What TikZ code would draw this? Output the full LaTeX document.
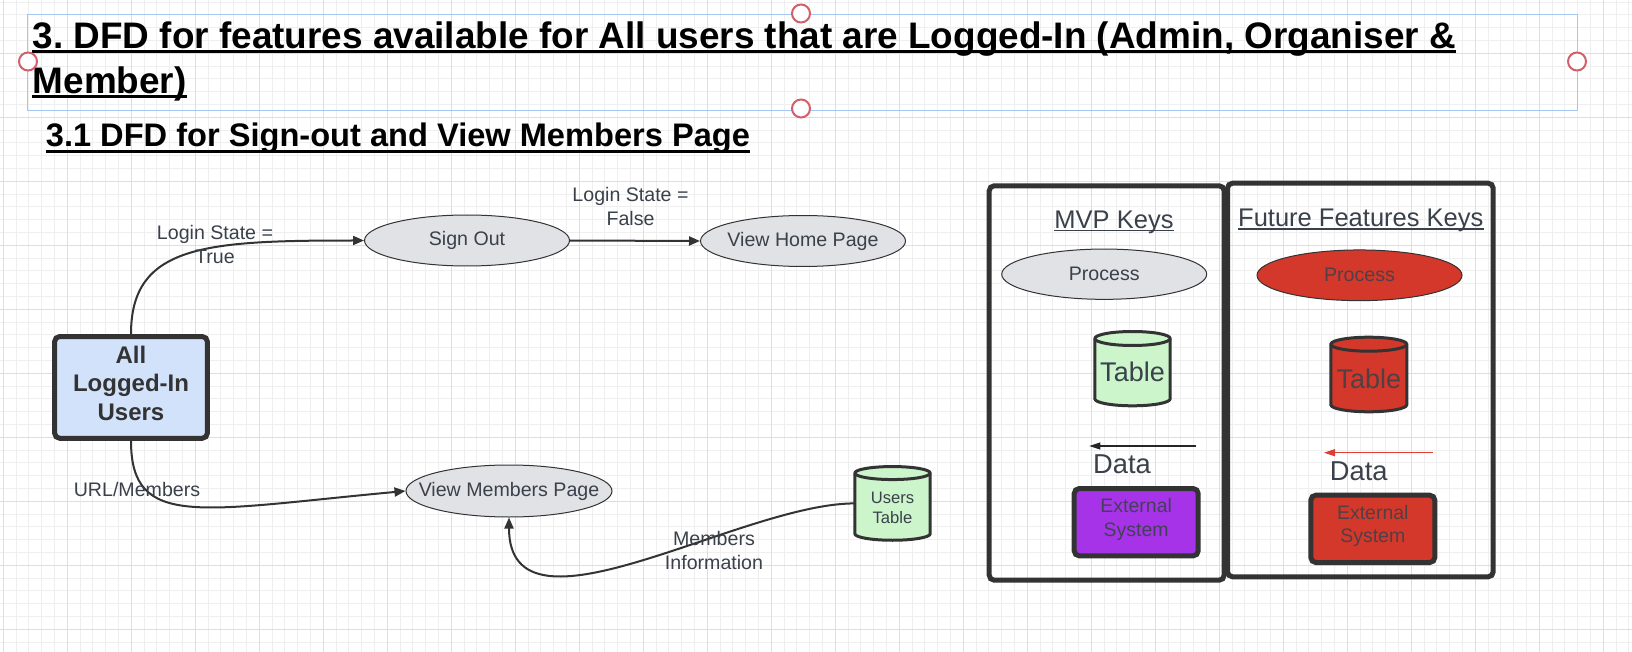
\documentclass[tikz,border=0pt]{standalone}
\usepackage{fontspec}
\setmainfont{Liberation Sans}
\usetikzlibrary{arrows.meta,shapes.geometric}
\frenchspacing
\definecolor{ink}{HTML}{3A414A}
\definecolor{stroke}{HTML}{333333}
\definecolor{procfill}{HTML}{E0E2E6}
\definecolor{userfill}{HTML}{D2E2FB}
\definecolor{tabfill}{HTML}{CCF5CC}
\definecolor{redfill}{HTML}{D3382B}
\definecolor{redline}{HTML}{E03C36}
\definecolor{purp}{HTML}{A633E8}
\definecolor{gridminor}{HTML}{EFEFEF}
\definecolor{gridmajor}{HTML}{DEDEDE}
\definecolor{selblue}{HTML}{A5C8F2}
\definecolor{selred}{HTML}{D2606B}
\newcommand\cylshape[7]{%
 \pgfmathsetmacro\cxl{#1-#3/2}\pgfmathsetmacro\cxr{#1+#3/2}%
 \pgfmathsetmacro\cyt{#2-#4/2+#5}\pgfmathsetmacro\cyb{#2+#4/2-#5}%
 \draw[draw=stroke, line width=#7, fill=#6, line join=round] (\cxl,\cyt) -- (\cxl,\cyb)
   arc[start angle=180,end angle=0,x radius=#3/2,y radius=#5] -- (\cxr,\cyt)
   arc[start angle=0,end angle=-180,x radius=#3/2,y radius=#5] -- cycle;
 \draw[draw=stroke, line width=#7] (\cxl,\cyt) arc[start angle=180,end angle=0,x radius=#3/2,y radius=#5];
}
\begin{document}
\begin{tikzpicture}[x=0.5pt,y=-0.5pt,
  ttl/.style={font=\bfseries\fontsize{18.45}{22}\selectfont, text=black, inner sep=0pt},
  subttl/.style={font=\bfseries\fontsize{16.3}{20}\selectfont, text=black, inner sep=0pt},
  procnode/.style={ellipse, draw=stroke, line width=0.5pt, fill=procfill, inner sep=0pt,
     font=\fontsize{9.8}{11.75}\selectfont, text=ink},
  lbl/.style={font=\fontsize{9.8}{11.75}\selectfont, text=ink, align=center, inner sep=0pt},
  flow/.style={draw=stroke, line width=1pt, -{Triangle[length=5.5pt,width=4.5pt]}},
  thickbox/.style={draw=stroke, line width=2.5pt, rounded corners=2.5pt, inner sep=0pt},
  keyttl/.style={font=\fontsize{12.75}{15}\selectfont, text=ink, inner sep=0pt},
  cylnode/.style={inner sep=0pt, outer sep=0pt},
  datatxt/.style={font=\fontsize{13.65}{16}\selectfont, text=ink, inner sep=0pt, anchor=base},
  uline/.style={line width=1.5pt}
]
\useasboundingbox (0,0) rectangle (1632,652);
\fill[white] (0,0) rectangle (1632,652);
% grid
\foreach \i in {0,...,127} \draw[gridminor, line width=0.5pt] ({3.3+12.8*\i},0) -- ({3.3+12.8*\i},652);
\foreach \j in {0,...,50} \draw[gridminor, line width=0.5pt] (0,{2.1+12.8*\j}) -- (1632,{2.1+12.8*\j});
\foreach \i in {0,...,25} \draw[gridmajor, line width=0.65pt] ({3.3+64*\i},0) -- ({3.3+64*\i},652);
\foreach \j in {0,...,9} \draw[gridmajor, line width=0.65pt] (0,{53.3+64*\j}) -- (1632,{53.3+64*\j});

% titles
\draw[selblue, line width=0.65pt] (27.2,14.7) rectangle (1577.7,110.7);
\node[ttl, anchor=base west] (title1) at (32.4,48.3) {3. DFD for features available for All users that are Logged-In (Admin, Organiser \&};
\node[ttl, anchor=base west] (title2) at (32.4,93.3) {Member)};
\draw[uline] ([yshift=-1.7pt]title1.base west) -- ([yshift=-1.7pt]title1.base east);
\draw[uline] ([yshift=-1.7pt]title2.base west) -- ([yshift=-1.7pt]title2.base east);
\foreach \p in {(801,13.5),(801,108.5),(28,61.5),(1577,61.5)}
  \draw[selred, line width=1pt, fill=white] \p circle[radius=9];
\node[subttl, anchor=base west] (sub) at (45.5,146.7) {3.1 DFD for Sign-out and View Members Page};
\draw[line width=1.25pt] ([yshift=-2.3pt]sub.base west) -- ([yshift=-2.3pt]sub.base east);

% main diagram
\node[thickbox, fill=userfill, minimum width=76.35pt, minimum height=50.85pt, align=center,
  font=\bfseries\fontsize{12}{14.25}\selectfont, text=stroke] (users) at (131,387.4)
  {All\\Logged-In\\Users\rule[-4.5pt]{0pt}{4.5pt}};
\node[procnode, minimum width=102.5pt, minimum height=25.5pt] (signout) at (467,240.5) {\makebox[0pt]{Sign Out}};
\node[procnode, minimum width=102.5pt, minimum height=25.5pt] (home) at (803,241) {\makebox[0pt]{View Home Page}};
\node[procnode, minimum width=103pt, minimum height=26pt] (members) at (509,491) {\makebox[0pt]{View Members Page}};

\cylshape{892.5}{503.4}{75.4}{73.7}{6.5}{tabfill}{1.5pt}
\node[cylnode, minimum width=37.7pt, minimum height=36.85pt,
  label={[name=utlabel, lbl, font=\fontsize{8.3}{10}\selectfont, yshift=-2.3pt]center:{Users\\Table}}] (ut) at (892.5,503.4) {};

\draw[flow] (users.north) .. controls (131,245) and (205,240.5) .. (signout.west);
\draw[flow] (signout.east) -- (home.west);
\draw[flow] (users.south) .. controls (131,530) and (200,510) .. (members.west);
\draw[flow] (ut.west) .. controls (740,503.4) and (509,650) .. (members.south);

\node[lbl] (lbltrue) at (215,244.3) {Login State =\\True};
\node[lbl] (lblfalse) at (630.5,206.3) {Login State =\\False};
\node[lbl, anchor=base] (lblurl) at (137,496) {URL/Members};
\node[lbl] (lblinfo) at (714,550.5) {Members\\Information};

% key panel
\node[thickbox, minimum width=117.5pt, minimum height=197.2pt] (mvpkey) at (1106.7,383) {};
\node[thickbox, minimum width=132.85pt, minimum height=196.8pt] (ffkey) at (1360.35,380) {};
\node[keyttl, anchor=base] (mvptitle) at (1114,228.3) {MVP Keys};
\draw[ink, line width=0.65pt] ([yshift=-1.2pt]mvptitle.base west) -- ([yshift=-1.2pt]mvptitle.base east);
\node[keyttl, anchor=base] (fftitle) at (1360.8,226.7) {Future Features Keys};
\draw[ink, line width=0.65pt] ([yshift=-1.2pt]fftitle.base west) -- ([yshift=-1.2pt]fftitle.base east);

\node[procnode, minimum width=102.5pt, minimum height=25.15pt] (mvpproc) at (1104.2,274.2) {\makebox[0pt]{Process}};
\node[procnode, fill=redfill, text opacity=0.85, minimum width=102.5pt, minimum height=25.35pt] (ffproc) at (1359.5,275.3) {\makebox[0pt]{Process}};

\cylshape{1132.5}{368.65}{75.4}{74.3}{7}{tabfill}{1.5pt}
\node[cylnode, minimum width=37.7pt, minimum height=37.15pt,
  label={[name=mvptablabel, lbl, font=\fontsize{13.5}{16}\selectfont, yshift=-1.7pt]center:Table}] (mvptable) at (1132.5,368.65) {};
\cylshape{1368.8}{374.5}{76}{74.6}{7}{redfill}{1.5pt}
\node[cylnode, minimum width=38pt, minimum height=37.3pt,
  label={[name=fftablabel, lbl, font=\fontsize{13.5}{16}\selectfont, text opacity=0.85, yshift=-2pt]center:Table}] (fftable) at (1368.8,374.5) {};

\coordinate (mvpdataA) at (1196,446);
\coordinate (mvpdataB) at (1089.3,446);
\draw[black!85, line width=0.65pt, -{Triangle[length=5.5pt,width=3.5pt]}] (mvpdataA) -- (mvpdataB);
\node[datatxt] (mvpdata) at (1122,473.3) {Data};
\coordinate (ffdataA) at (1432.7,452.7);
\coordinate (ffdataB) at (1324,452.7);
\draw[redline, line width=0.65pt, -{Triangle[length=5.5pt,width=3.5pt]}] (ffdataA) -- (ffdataB);
\node[datatxt] (ffdata) at (1358.7,480) {Data};

\node[thickbox, fill=purp, minimum width=62pt, minimum height=33.65pt, align=center,
  font=\fontsize{9.75}{11.65}\selectfont, text=ink, text opacity=0.9] (mvpext) at (1136.2,522.2)
  {External\\System\rule[-4.85pt]{0pt}{4.85pt}};
\node[thickbox, fill=redfill, minimum width=62pt, minimum height=33.65pt, align=center,
  font=\fontsize{9.75}{11.65}\selectfont, text=ink, text opacity=0.85] (ffext) at (1372.8,528.85)
  {External\\System\rule[-4.85pt]{0pt}{4.85pt}};
\end{tikzpicture}
\end{document}
